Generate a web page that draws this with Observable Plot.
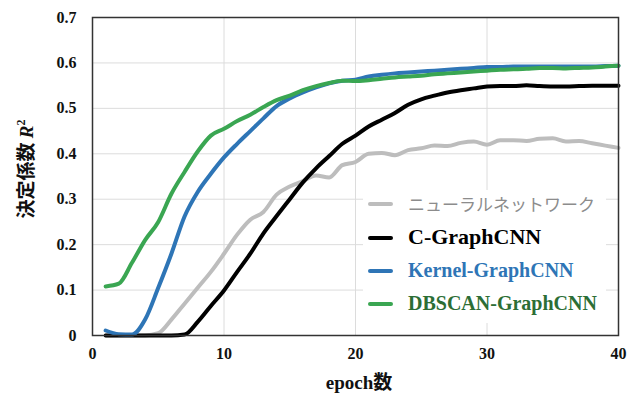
<!DOCTYPE html>
<html>
<head>
<meta charset="utf-8">
<script src="https://cdn.jsdelivr.net/npm/d3@7"></script>
<script src="https://cdn.jsdelivr.net/npm/@observablehq/plot@0.6"></script>
<style>
  html, body { margin: 0; padding: 0; background: #fff; }
  #wrap { position: relative; width: 641px; height: 394px; overflow: hidden; }
  .serif { font-family: "Liberation Serif", "Times New Roman", serif; font-weight: bold; }
  .jp { font-family: "Noto Sans CJK JP", sans-serif; font-weight: bold; }
  #ylab { position: absolute; left: 25px; top: 169px; transform: translate(-50%, -50%) rotate(-90deg); white-space: nowrap; font-size: 19px; color: #111; line-height: 1; }
  #xlab { position: absolute; left: 359px; top: 381px; transform: translate(-50%, -50%); white-space: nowrap; font-size: 19px; color: #111; line-height: 1; }
  #legend { position: absolute; left: 363px; top: 190px; width: 243px; height: 133px; background: #fff; }
  .item { position: absolute; left: 5px; white-space: nowrap; }
  .sw { position: absolute; left: 0; width: 25px; height: 4px; border-radius: 2px; }
  .lt { position: absolute; left: 40px; line-height: 1; }
</style>
</head>
<body>
<div id="wrap"></div>
<script>
const epochs = [1,2,3,4,5,6,7,8,9,10,11,12,13,14,15,16,17,18,19,20,21,22,23,24,25,26,27,28,29,30,31,32,33,34,35,36,37,38,39,40];
const nnValues = [0,0,0,0,0.005,0.035,0.07,0.105,0.14,0.18,0.222,0.255,0.272,0.31,0.328,0.34,0.352,0.348,0.375,0.382,0.40,0.402,0.397,0.408,0.412,0.418,0.417,0.424,0.427,0.42,0.43,0.43,0.428,0.433,0.434,0.427,0.428,0.423,0.418,0.413];
const cValues = [0,0,0,0,0,0,0.002,0.03,0.065,0.099,0.14,0.18,0.225,0.263,0.30,0.337,0.368,0.395,0.422,0.44,0.46,0.475,0.49,0.508,0.52,0.528,0.535,0.54,0.544,0.548,0.549,0.549,0.551,0.549,0.548,0.548,0.549,0.55,0.55,0.55];
const kernelValues = [0.011,0.003,0.002,0.035,0.105,0.18,0.262,0.316,0.356,0.392,0.422,0.45,0.478,0.505,0.522,0.535,0.546,0.555,0.561,0.563,0.57,0.574,0.577,0.579,0.581,0.583,0.585,0.587,0.589,0.591,0.591,0.592,0.592,0.592,0.592,0.592,0.592,0.592,0.593,0.594];
const dbscanValues = [0.108,0.114,0.16,0.21,0.25,0.312,0.36,0.405,0.44,0.455,0.472,0.486,0.503,0.518,0.528,0.54,0.549,0.556,0.561,0.56,0.562,0.565,0.568,0.57,0.572,0.575,0.577,0.579,0.581,0.583,0.585,0.586,0.587,0.589,0.589,0.588,0.589,0.59,0.592,0.594];

const seriesNames = ["ニューラルネットワーク", "C-GraphCNN", "Kernel-GraphCNN", "DBSCAN-GraphCNN"];
const seriesColors = ["#bdbdbd", "#000000", "#2e75b6", "#3aa652"];
const legendTextColors = ["#8c8c8c", "#000000", "#2e75b6", "#2c6e35"];
const xTicks = [0, 10, 20, 30, 40];
const yTicks = [0, 0.1, 0.2, 0.3, 0.4, 0.5, 0.6, 0.7];
const xGrid = [10, 20, 30];
const yGrid = [0.1, 0.2, 0.3, 0.4, 0.5, 0.6];

const allValues = [nnValues, cValues, kernelValues, dbscanValues];
const rows = epochs.flatMap((e, i) => allValues.map((vals, s) => ({epoch: e, value: vals[i], series: seriesNames[s]})));

const lineMarks = seriesNames.map((name, s) =>
  Plot.line(rows.filter(d => d.series === name), {
    x: "epoch", y: "value", stroke: seriesColors[s], strokeWidth: 4,
    curve: "monotone-x", strokeLinejoin: "round", strokeLinecap: "round"
  })
);

const chart = Plot.plot({
  width: 641,
  height: 394,
  marginLeft: 92,
  marginRight: 23,
  marginTop: 17,
  marginBottom: 59,
  style: { fontFamily: "'Liberation Serif', 'Times New Roman', serif", fontSize: "16px", fontWeight: "bold", color: "#111", background: "#fff" },
  x: { domain: [0, 40], ticks: xTicks, tickSize: 0, tickPadding: 12, label: null },
  y: { domain: [0, 0.7], ticks: yTicks, tickSize: 0, tickPadding: 16, label: null, tickFormat: d => d === 0 ? "0" : d3.format(".1f")(d) },
  marks: [
    Plot.ruleX(xGrid, { stroke: "#dcdcdc", strokeWidth: 1 }),
    Plot.ruleY(yGrid, { stroke: "#dcdcdc", strokeWidth: 1 }),
    ...lineMarks,
    Plot.frame({ stroke: "#333", strokeWidth: 1.5 })
  ]
});
const wrap = document.getElementById("wrap");
wrap.appendChild(chart);

// Legend overlay
const legend = document.createElement("div");
legend.id = "legend";
const legendRows = [
  { top: 14, cls: "jp", size: 17, weight: "normal", family: "'Noto Sans CJK JP', sans-serif" },
  { top: 48, cls: "serif", size: 22, weight: "bold" },
  { top: 81, cls: "serif", size: 20, weight: "bold" },
  { top: 114, cls: "serif", size: 20, weight: "bold" }
];
seriesNames.forEach((name, s) => {
  const r = legendRows[s];
  const item = document.createElement("div");
  item.className = "item";
  item.style.top = r.top + "px";
  const sw = document.createElement("div");
  sw.className = "sw";
  sw.style.background = seriesColors[s];
  sw.style.top = "-2px";
  const t = document.createElement("div");
  t.className = "lt " + r.cls;
  t.textContent = name;
  t.style.fontSize = r.size + "px";
  t.style.fontWeight = r.weight;
  if (r.family) t.style.fontFamily = r.family;
  t.style.color = legendTextColors[s];
  t.style.top = (-r.size * 0.55) + "px";
  item.appendChild(sw);
  item.appendChild(t);
  legend.appendChild(item);
});
wrap.appendChild(legend);

// Axis titles
const ylab = document.createElement("div");
ylab.id = "ylab";
ylab.innerHTML = '<span class="jp">決定係数 </span><span class="serif" style="font-style:italic">R</span><sup class="serif" style="font-size:12px">2</sup>';
wrap.appendChild(ylab);
const xlab = document.createElement("div");
xlab.id = "xlab";
xlab.innerHTML = '<span class="serif">epoch</span><span class="jp">数</span>';
wrap.appendChild(xlab);
</script>
</body>
</html>
